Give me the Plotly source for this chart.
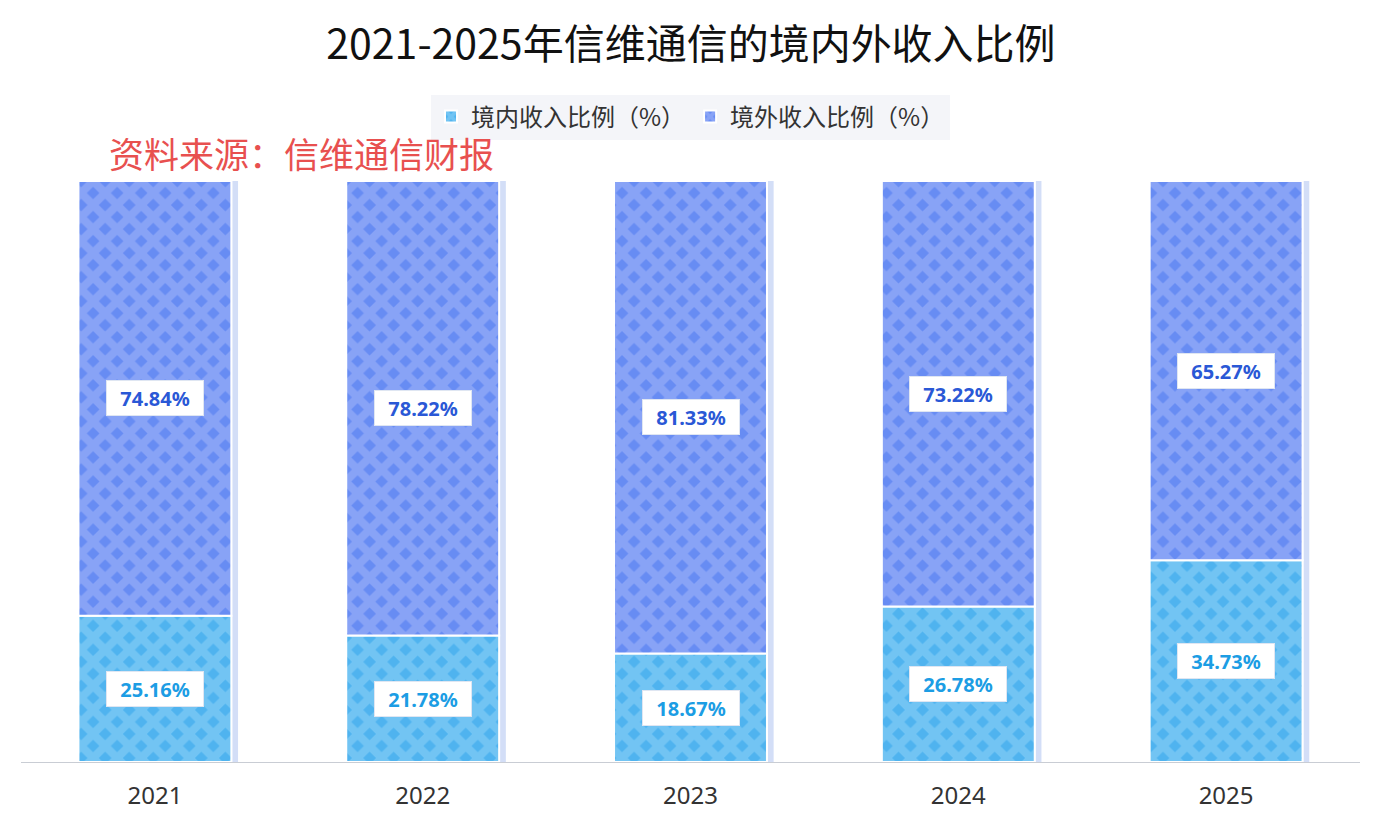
import plotly.graph_objects as go

years = ["2021", "2022", "2023", "2024", "2025"]
domestic = [25.16, 21.78, 18.67, 26.78, 34.73]
overseas = [74.84, 78.22, 81.33, 73.22, 65.27]
series_names = ["境内收入比例（%）", "境外收入比例（%）"]
title_text = "2021-2025年信维通信的境内外收入比例"
source_text = "资料来源：信维通信财报"

CJK = "Noto Sans CJK SC"
BAR_W = 0.571
L, R, T, B = 13, 32, 173, 76
PW, PH = 1384 - L - R, 830 - T - B

fig = go.Figure()

# soft shadow strip at the right edge of each bar
totals = [a + b for a, b in zip(domestic, overseas)]
fig.add_trace(go.Bar(
    x=years, y=totals, width=0.022, offset=BAR_W / 2 + 0.003,
    marker=dict(color="rgba(110,145,230,0.30)", line=dict(width=0)),
    showlegend=False, hoverinfo="skip",
))

fig.add_trace(go.Bar(
    x=years, y=domestic, width=BAR_W, name=series_names[0],
    marker=dict(
        color="#8fd2f8",
        line=dict(color="white", width=2),
        pattern=dict(shape="x", bgcolor="#4fb3ef", fgcolor="#95d5f8",
                     size=17, solidity=0.72),
    ),
))
fig.add_trace(go.Bar(
    x=years, y=overseas, base=domestic, width=BAR_W, name=series_names[1],
    marker=dict(
        color="#a8b8f9",
        line=dict(color="white", width=2),
        pattern=dict(shape="x", bgcolor="#678cf3", fgcolor="#a9b9f9",
                     size=17, solidity=0.72),
    ),
))

annotations = []
for i, (d, o) in enumerate(zip(domestic, overseas)):
    annotations.append(dict(
        x=i, y=d / 2, xref="x", yref="y", text=f"<b>{d:.2f}%</b>", showarrow=False,
        font=dict(family="Noto Sans", size=20, color="#1c9de4"),
        bgcolor="white", bordercolor="#dfe6f2", borderwidth=1, borderpad=6,
        width=84, height=22,
    ))
    annotations.append(dict(
        x=i, y=d + o / 2, xref="x", yref="y", text=f"<b>{o:.2f}%</b>", showarrow=False,
        font=dict(family="Noto Sans", size=20, color="#2a58d6"),
        bgcolor="white", bordercolor="#dfe6f2", borderwidth=1, borderpad=6,
        width=84, height=22,
    ))

annotations.append(dict(
    x=(99 - L) / PW, y=(830 - B - 144) / PH, xref="paper", yref="paper",
    xanchor="left", yanchor="middle", showarrow=False, text=source_text,
    font=dict(family=CJK, size=35, color="#e8504f"),
))

fig.update_layout(
    width=1384, height=830,
    margin=dict(l=L, r=R, t=T, b=B),
    paper_bgcolor="white", plot_bgcolor="white",
    barmode="overlay", bargap=0.43,
    title=dict(text=title_text, x=683 / 1384, xref="container", xanchor="center",
               y=1 - 37 / 830, yanchor="middle",
               font=dict(family=CJK, size=41, color="#111111")),
    legend=dict(orientation="h", x=0.5, xanchor="center", y=(830 - B - 109) / PH,
                yanchor="middle", bgcolor="#f4f5f9", traceorder="normal",
                font=dict(family=CJK, size=24, color="#333333")),
    annotations=annotations,
)
fig.update_xaxes(type="category", range=[-0.5, 4.5], autorange=False,
                 showline=True, linecolor="#c9cdd4", linewidth=1,
                 showgrid=False, ticks="outside", ticklen=12, tickcolor="rgba(0,0,0,0)",
                 tickfont=dict(family="Noto Sans", size=24, color="#333333"))
fig.update_yaxes(range=[0, 100], autorange=False, showticklabels=False,
                 showgrid=False, zeroline=False, showline=False)

fig.write_html("out.html")
